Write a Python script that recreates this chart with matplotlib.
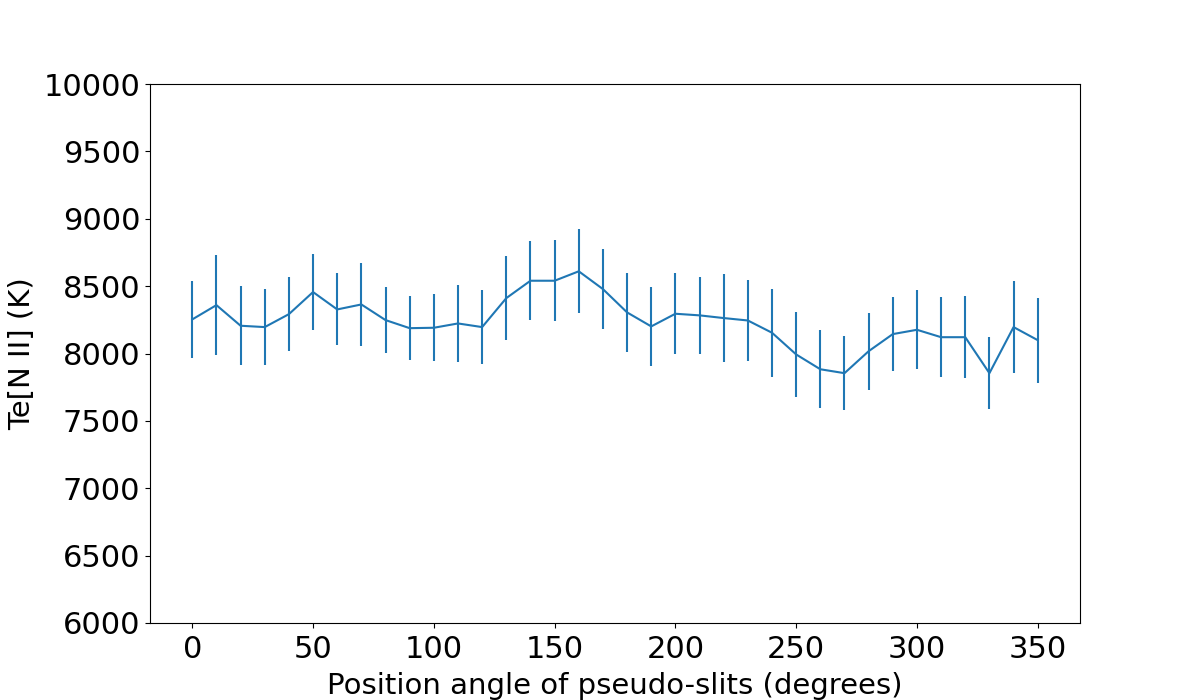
import numpy as np
import matplotlib
matplotlib.use('Agg')
import matplotlib.pyplot as plt

# Position angles of the pseudo-slits (degrees)
angles = np.arange(0, 360, 10)

# Te[N II] (K) and its uncertainty
te_nii = [8253, 8359, 8206, 8196, 8292, 8456, 8327, 8364, 8248, 8188,
          8191, 8223, 8196, 8411, 8540, 8540, 8610, 8478, 8305, 8201,
          8295, 8283, 8263, 8245, 8154, 7993, 7883, 7854, 8017, 8144,
          8176, 8121, 8121, 7854, 8196, 8099]
te_err = [285, 372, 292, 282, 274, 282, 267, 310, 245, 236,
          248, 289, 273, 311, 293, 300, 311, 298, 292, 292,
          300, 288, 325, 303, 326, 318, 289, 273, 285, 274,
          292, 296, 303, 266, 340, 315]

plt.rcParams['font.size'] = 21

fig = plt.figure(figsize=(12, 7), dpi=100)
ax = fig.add_subplot(111)
ax.errorbar(angles, te_nii, yerr=te_err, color='#1f77b4')

ax.set_ylim(6000, 10000)
ax.tick_params(axis='both', labelsize=22)
ax.tick_params(axis='x', pad=5)
ax.set_xlabel('Position angle of pseudo-slits (degrees)', labelpad=6)
ax.set_ylabel('Te[N II] (K)', labelpad=5)

fig.savefig('out.png', dpi=100)
